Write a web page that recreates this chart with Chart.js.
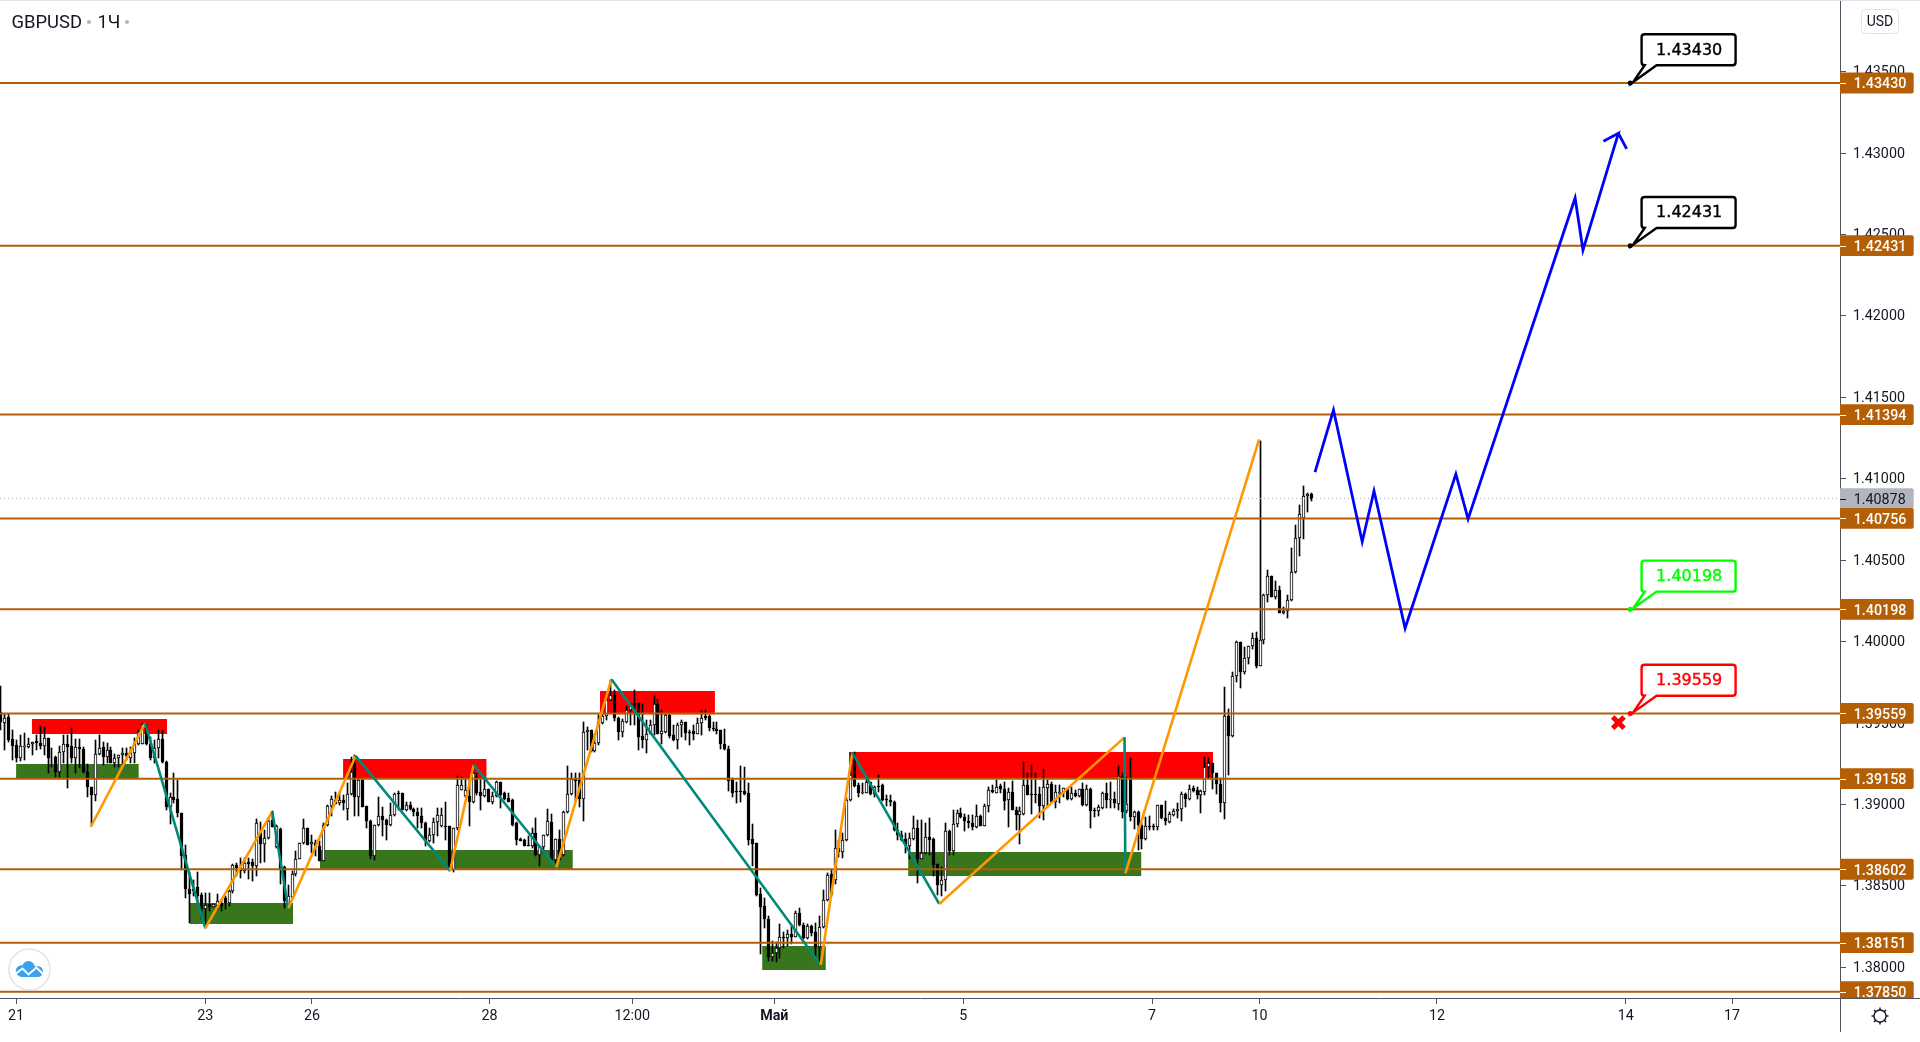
<!DOCTYPE html>
<html>
<head>
<meta charset="utf-8">
<title>GBPUSD</title>
<script src="https://cdn.jsdelivr.net/npm/chart.js@4/dist/chart.umd.min.js"></script>
<style>
    html, body { margin: 0; padding: 0; background: #fff; overflow: hidden; }
    canvas { display: block; }
</style>
</head>
<body>
<canvas id="chart" width="1920" height="1042"></canvas>
<script>
// Hourly candles. Index in these arrays is the bar number.
const opens = [
1.39568,1.39500,1.39537,1.39399,1.39364,1.39283,1.39354,1.39354,1.39374,1.39388,
1.39380,1.39360,1.39405,1.39287,1.39289,1.39201,1.39323,1.39374,1.39358,1.39287,
1.39350,1.39340,1.39201,1.39109,1.39059,1.39309,1.39350,1.39293,1.39333,1.39256,
1.39283,1.39301,1.39313,1.39283,1.39313,1.39374,1.39374,1.39476,1.39374,1.39283,
1.39344,1.39399,1.39262,1.38987,1.39044,1.39032,1.38947,1.38690,1.38482,1.38482,
1.38495,1.38442,1.38356,1.38387,1.38370,1.38377,1.38397,1.38423,1.38397,1.38468,
1.38631,1.38611,1.38590,1.38647,1.38647,1.38621,1.38824,1.38757,1.38794,1.38906,
1.38739,1.38849,1.38613,1.38368,1.38429,1.38570,1.38666,1.38763,1.38855,1.38755,
1.38763,1.38743,1.38651,1.38875,1.38991,1.39028,1.39008,1.39028,1.38971,1.39063,
1.39248,1.39044,1.39150,1.38991,1.38900,1.38686,1.38873,1.38930,1.38906,1.38873,
1.38934,1.39073,1.39069,1.38967,1.38997,1.38973,1.38953,1.38930,1.38885,1.38773,
1.38814,1.38892,1.38869,1.38869,1.38865,1.38596,1.38855,1.39089,1.39052,1.39052,
1.39012,1.39171,1.39079,1.39052,1.39093,1.39018,1.39052,1.39140,1.39073,1.39038,
1.39028,1.38885,1.38790,1.38784,1.38749,1.38747,1.38824,1.38692,1.38737,1.38810,
1.38892,1.38661,1.38788,1.38692,1.38953,1.39065,1.39160,1.39150,1.39032,1.39443,
1.39455,1.39329,1.39378,1.39500,1.39541,1.39639,1.39675,1.39533,1.39445,1.39506,
1.39582,1.39624,1.39624,1.39419,1.39398,1.39435,1.39490,1.39618,1.39435,1.39445,
1.39547,1.39425,1.39398,1.39490,1.39504,1.39447,1.39449,1.39435,1.39502,1.39541,
1.39541,1.39472,1.39466,1.39455,1.39374,1.39343,1.39150,1.39083,1.39083,1.39083,
1.39069,1.38790,1.38763,1.38448,1.38374,1.38299,1.38061,1.38085,1.38116,1.38183,
1.38177,1.38203,1.38187,1.38336,1.38262,1.38177,1.38254,1.38214,1.38122,1.38250,
1.38413,1.38570,1.38539,1.38733,1.38706,1.38784,1.39026,1.39272,1.39120,1.39073,
1.39073,1.39136,1.39063,1.39116,1.39120,1.39032,1.39030,1.39018,1.38845,1.38814,
1.38790,1.38747,1.38790,1.38855,1.38668,1.38702,1.38800,1.38790,1.38637,1.38505,
1.38539,1.38839,1.38716,1.38881,1.38947,1.38920,1.38900,1.38885,1.38861,1.38930,
1.38869,1.38991,1.39089,1.39073,1.39113,1.39093,1.39026,1.39077,1.38967,1.38936,
1.38942,1.39120,1.39065,1.39063,1.39063,1.38991,1.39103,1.39124,1.39014,1.39073,
1.39079,1.39099,1.39034,1.39073,1.39052,1.39093,1.38997,1.39093,1.38963,1.38957,
1.38977,1.39069,1.39028,1.39032,1.39004,1.39175,1.38957,1.39160,1.38922,1.38953,
1.38875,1.38790,1.38869,1.38865,1.38859,1.38995,1.38916,1.38894,1.38936,1.38957,
1.38971,1.39065,1.39034,1.39103,1.39089,1.39061,1.39079,1.39227,1.39252,1.39191,
1.39124,1.39008,1.39541,1.39421,1.39787,1.39999,1.39812,1.39899,1.39971,1.40022,
1.39853,1.40009,1.40286,1.40400,1.40276,1.40315,1.40178,1.40188,1.40254,1.40425,
1.40638,1.40759,1.40895,1.40907
];
const highs = [
1.39730,1.39557,1.39557,1.39456,1.39395,1.39425,1.39441,1.39405,1.39386,1.39425,
1.39480,1.39476,1.39405,1.39344,1.39297,1.39358,1.39425,1.39425,1.39472,1.39399,
1.39399,1.39354,1.39248,1.39109,1.39395,1.39425,1.39384,1.39378,1.39354,1.39309,
1.39301,1.39344,1.39344,1.39354,1.39405,1.39456,1.39500,1.39496,1.39415,1.39395,
1.39456,1.39456,1.39266,1.39069,1.39191,1.39150,1.38947,1.38753,1.38584,1.38539,
1.38584,1.38458,1.38458,1.38458,1.38387,1.38448,1.38417,1.38438,1.38474,1.38637,
1.38641,1.38672,1.38672,1.38672,1.38662,1.38910,1.38890,1.38845,1.38916,1.38957,
1.38875,1.38855,1.38621,1.38503,1.38590,1.38712,1.38763,1.38912,1.38855,1.38814,
1.38784,1.38773,1.38885,1.38997,1.39052,1.39079,1.39079,1.39059,1.39130,1.39293,
1.39303,1.39160,1.39154,1.38991,1.38906,1.38875,1.39048,1.38987,1.38910,1.39008,
1.39069,1.39083,1.39073,1.39018,1.39012,1.38977,1.38977,1.38977,1.38890,1.38855,
1.38916,1.38977,1.38977,1.39018,1.38865,1.38855,1.39175,1.39171,1.39160,1.39171,
1.39242,1.39191,1.39160,1.39160,1.39093,1.39079,1.39146,1.39140,1.39079,1.39069,
1.39032,1.38890,1.38794,1.38788,1.38804,1.38855,1.38916,1.38743,1.38814,1.38973,
1.38942,1.38788,1.38845,1.38957,1.39236,1.39195,1.39195,1.39191,1.39506,1.39476,
1.39460,1.39435,1.39547,1.39557,1.39675,1.39765,1.39700,1.39537,1.39527,1.39602,
1.39622,1.39700,1.39624,1.39614,1.39517,1.39517,1.39663,1.39649,1.39582,1.39557,
1.39553,1.39486,1.39500,1.39517,1.39504,1.39455,1.39486,1.39531,1.39582,1.39582,
1.39547,1.39506,1.39506,1.39460,1.39466,1.39358,1.39164,1.39138,1.39236,1.39227,
1.39130,1.38881,1.38763,1.38484,1.38427,1.38315,1.38163,1.38157,1.38264,1.38214,
1.38230,1.38254,1.38346,1.38366,1.38271,1.38264,1.38258,1.38271,1.38315,1.38474,
1.38580,1.38600,1.38845,1.38784,1.38824,1.39038,1.39313,1.39323,1.39130,1.39130,
1.39156,1.39136,1.39113,1.39181,1.39126,1.39059,1.39059,1.39022,1.38885,1.38835,
1.38824,1.38824,1.38930,1.38906,1.38906,1.38885,1.38916,1.38794,1.38637,1.38617,
1.38885,1.38845,1.38967,1.38967,1.38977,1.38942,1.38936,1.38936,1.38997,1.38936,
1.39004,1.39109,1.39120,1.39150,1.39126,1.39140,1.39099,1.39144,1.38987,1.38987,
1.39262,1.39191,1.39242,1.39191,1.39109,1.39215,1.39150,1.39140,1.39120,1.39120,
1.39103,1.39103,1.39109,1.39089,1.39093,1.39130,1.39120,1.39099,1.38977,1.38997,
1.39079,1.39130,1.39140,1.39079,1.39236,1.39191,1.39171,1.39283,1.38957,1.38957,
1.38885,1.38922,1.38926,1.38881,1.38995,1.38995,1.39022,1.38951,1.38971,1.39008,
1.39079,1.39069,1.39120,1.39113,1.39109,1.39089,1.39289,1.39283,1.39256,1.39191,
1.39160,1.39724,1.39588,1.39812,1.40005,1.39999,1.39964,1.39975,1.40054,1.40056,
1.41231,1.40290,1.40439,1.40402,1.40372,1.40341,1.40213,1.40286,1.40575,1.40714,
1.40840,1.40958,1.40915,1.40915
];
const lows = [
1.39456,1.39333,1.39384,1.39272,1.39262,1.39266,1.39272,1.39344,1.39303,1.39333,
1.39338,1.39303,1.39191,1.39232,1.39166,1.39166,1.39252,1.39099,1.39252,1.39191,
1.39221,1.39191,1.39048,1.38865,1.39024,1.39303,1.39242,1.39252,1.39252,1.39228,
1.39228,1.39236,1.39272,1.39256,1.39256,1.39364,1.39374,1.39364,1.39272,1.39252,
1.39283,1.39252,1.38967,1.38881,1.39008,1.38922,1.38600,1.38427,1.38275,1.38438,
1.38393,1.38295,1.38244,1.38346,1.38370,1.38356,1.38346,1.38356,1.38377,1.38458,
1.38560,1.38550,1.38580,1.38543,1.38529,1.38560,1.38641,1.38645,1.38788,1.38861,
1.38733,1.38509,1.38366,1.38368,1.38417,1.38560,1.38662,1.38759,1.38753,1.38702,
1.38682,1.38651,1.38651,1.38869,1.38926,1.39002,1.38997,1.38967,1.38906,1.39059,
1.38930,1.38926,1.38987,1.38855,1.38662,1.38657,1.38869,1.38804,1.38780,1.38865,
1.38926,1.38967,1.38963,1.38957,1.38963,1.38926,1.38855,1.38855,1.38743,1.38767,
1.38763,1.38804,1.38861,1.38784,1.38590,1.38588,1.38845,1.39089,1.39044,1.38865,
1.39008,1.39059,1.38963,1.39048,1.39016,1.39004,1.39048,1.38977,1.39028,1.39016,
1.38869,1.38753,1.38773,1.38743,1.38743,1.38733,1.38682,1.38625,1.38702,1.38804,
1.38651,1.38641,1.38657,1.38682,1.38947,1.39059,1.39018,1.38983,1.38896,1.39333,
1.39323,1.39323,1.39364,1.39496,1.39517,1.39635,1.39513,1.39394,1.39415,1.39500,
1.39486,1.39486,1.39333,1.39344,1.39317,1.39431,1.39425,1.39431,1.39370,1.39439,
1.39405,1.39390,1.39341,1.39415,1.39398,1.39364,1.39398,1.39431,1.39427,1.39517,
1.39451,1.39451,1.39435,1.39339,1.39337,1.39085,1.39044,1.39008,1.39018,1.39059,
1.38753,1.38625,1.38437,1.38081,1.38240,1.38040,1.38040,1.38034,1.38055,1.38116,
1.38132,1.38142,1.38183,1.38254,1.38173,1.38173,1.38193,1.38061,1.38020,1.38244,
1.38407,1.38437,1.38509,1.38678,1.38672,1.38778,1.39022,1.39109,1.39048,1.39063,
1.39069,1.39059,1.39048,1.39079,1.39024,1.38991,1.38991,1.38835,1.38784,1.38773,
1.38702,1.38662,1.38784,1.38515,1.38662,1.38696,1.38692,1.38560,1.38442,1.38438,
1.38468,1.38692,1.38692,1.38861,1.38916,1.38835,1.38855,1.38845,1.38855,1.38869,
1.38869,1.38951,1.39073,1.39069,1.39069,1.38963,1.38861,1.38963,1.38841,1.38759,
1.38936,1.39059,1.38942,1.39008,1.38916,1.38906,1.38987,1.39012,1.38981,1.39008,
1.39044,1.39028,1.39028,1.39048,1.39048,1.38991,1.38991,1.38855,1.38922,1.38930,
1.38971,1.38977,1.38977,1.38977,1.38967,1.38916,1.38947,1.38896,1.38849,1.38723,
1.38727,1.38784,1.38841,1.38841,1.38845,1.38910,1.38875,1.38885,1.38926,1.38916,
1.38900,1.38983,1.39028,1.39075,1.39032,1.38947,1.39059,1.39156,1.39093,1.39063,
1.38951,1.38910,1.39181,1.39415,1.39751,1.39714,1.39798,1.39863,1.39952,1.39836,
1.39853,1.39985,1.40243,1.40274,1.40264,1.40178,1.40168,1.40142,1.40250,1.40421,
1.40526,1.40632,1.40795,1.40864
];
const closes = [
1.39507,1.39533,1.39395,1.39360,1.39283,1.39358,1.39358,1.39374,1.39386,1.39378,
1.39358,1.39405,1.39287,1.39283,1.39201,1.39323,1.39374,1.39354,1.39287,1.39350,
1.39340,1.39201,1.39109,1.39059,1.39309,1.39348,1.39293,1.39333,1.39256,1.39283,
1.39301,1.39313,1.39297,1.39313,1.39374,1.39445,1.39496,1.39374,1.39283,1.39344,
1.39399,1.39262,1.38987,1.39044,1.39028,1.38947,1.38686,1.38478,1.38448,1.38470,
1.38438,1.38356,1.38385,1.38370,1.38387,1.38407,1.38377,1.38397,1.38468,1.38631,
1.38611,1.38590,1.38641,1.38637,1.38621,1.38886,1.38757,1.38794,1.38896,1.38861,
1.38869,1.38600,1.38407,1.38438,1.38570,1.38666,1.38763,1.38855,1.38753,1.38769,
1.38743,1.38651,1.38875,1.38991,1.39032,1.39002,1.39028,1.39008,1.39063,1.39201,
1.39044,1.39150,1.38987,1.38896,1.38686,1.38875,1.38930,1.38902,1.38873,1.38934,
1.39065,1.39063,1.38967,1.38997,1.38971,1.38951,1.38930,1.38885,1.38773,1.38814,
1.38892,1.38934,1.38934,1.38861,1.38611,1.38855,1.39118,1.39120,1.39089,1.39012,
1.39191,1.39069,1.39052,1.39093,1.39018,1.39052,1.39140,1.39059,1.39034,1.39018,
1.38875,1.38784,1.38778,1.38747,1.38743,1.38824,1.38692,1.38743,1.38814,1.38896,
1.38661,1.38788,1.38661,1.38953,1.39065,1.39154,1.39146,1.39032,1.39443,1.39455,
1.39329,1.39378,1.39506,1.39541,1.39643,1.39673,1.39533,1.39445,1.39510,1.39582,
1.39618,1.39612,1.39415,1.39398,1.39435,1.39490,1.39618,1.39435,1.39449,1.39547,
1.39421,1.39394,1.39490,1.39504,1.39439,1.39439,1.39435,1.39502,1.39533,1.39531,
1.39472,1.39464,1.39449,1.39370,1.39339,1.39146,1.39073,1.39075,1.39077,1.39065,
1.38784,1.38759,1.38444,1.38370,1.38299,1.38061,1.38085,1.38116,1.38183,1.38177,
1.38203,1.38183,1.38336,1.38258,1.38177,1.38254,1.38209,1.38122,1.38250,1.38413,
1.38568,1.38448,1.38733,1.38708,1.38784,1.39026,1.39181,1.39113,1.39073,1.39077,
1.39136,1.39063,1.39109,1.39109,1.39028,1.39028,1.39012,1.38841,1.38814,1.38784,
1.38753,1.38794,1.38855,1.38668,1.38702,1.38800,1.38784,1.38631,1.38505,1.38539,
1.38839,1.38716,1.38881,1.38947,1.38920,1.38900,1.38885,1.38861,1.38926,1.38869,
1.38991,1.39089,1.39079,1.39109,1.39093,1.39022,1.39077,1.38963,1.38936,1.38957,
1.39120,1.39059,1.39059,1.39057,1.38991,1.39105,1.39124,1.39014,1.39079,1.39079,
1.39099,1.39034,1.39069,1.39052,1.39093,1.38997,1.39093,1.38957,1.38957,1.38983,
1.39069,1.39028,1.39034,1.39008,1.39175,1.38951,1.39004,1.38922,1.38953,1.38873,
1.38790,1.38869,1.38861,1.38861,1.38995,1.38914,1.38900,1.38942,1.38961,1.38971,
1.39063,1.39036,1.39097,1.39083,1.39061,1.39083,1.39227,1.39252,1.39191,1.39124,
1.39008,1.39541,1.39421,1.39787,1.39999,1.39812,1.39899,1.39971,1.40022,1.39853,
1.40009,1.40286,1.40400,1.40276,1.40315,1.40178,1.40188,1.40254,1.40425,1.40638,
1.40783,1.40895,1.40909,1.40878
];

// Time axis
const timeTickBars = [4, 52.1, 79.2, 124.3, 160.6, 196.7, 244.7, 292.7, 320, 365.1, 413.1, 440.1];
const timeTickLabels = ['21', '23', '26', '28', '12:00', 'Май', '5', '7', '10', '12', '14', '17'];

// Price axis
const priceTicks = [1.38, 1.385, 1.39, 1.395, 1.40, 1.405, 1.41, 1.415, 1.42, 1.425, 1.43, 1.435];
const lastPrice = 1.40878;

// Horizontal levels
const levelPrices = [1.43430, 1.42431, 1.41394, 1.40756, 1.40198, 1.39559, 1.39158, 1.38602, 1.38151, 1.37850];

// Supply zones
const redStart = [8.0, 87.1, 152.4, 215.7];
const redEnd = [42.4, 123.6, 181.6, 308.2];
const redTop = [1.39525, 1.39279, 1.39697, 1.39322];
const redBottom = [1.39433, 1.39158, 1.39554, 1.39158];

// Demand zones
const greenStart = [4.0, 48.2, 81.2, 193.6, 230.7];
const greenEnd = [35.2, 74.4, 145.5, 209.8, 290.0];
const greenTop = [1.39248, 1.38395, 1.38720, 1.38131, 1.38708];
const greenBottom = [1.39158, 1.38266, 1.38602, 1.37984, 1.38561];

// Swing line: odd segments go up (orange), even ones down (teal)
const swingBars = [23.0, 36.8, 52.1, 69.1, 73.2, 90.3, 114.3, 120.3, 141.3, 155.3, 208.5, 216.5, 238.6, 285.7, 285.9, 319.9];
const swingPrices = [1.38863, 1.39498, 1.38240, 1.38956, 1.38362, 1.39298, 1.38593, 1.39244, 1.38614, 1.39769, 1.38014, 1.39318, 1.38389, 1.39412, 1.38577, 1.41242];

// Projected path, the last four points make the arrow head
const forecastBars = [334.1, 338.8, 346.1, 349.1, 357.0, 369.9, 373.0, 400.2, 402.2, 411.2, 407.4, 411.2, 413.3];
const forecastPrices = [1.41040, 1.41422, 1.40613, 1.40925, 1.40082, 1.41029, 1.40753, 1.42724, 1.42404, 1.43121, 1.43072, 1.43121, 1.43025];

// Balloon notes
const noteBar = 414.2;
const notePrices = [1.43430, 1.42431, 1.40198, 1.39559];
const noteColors = ['#000000', '#000000', '#00ff00', '#ff0000'];
const stopBar = 411.2;
const stopPrice = 1.39502;

const LEVEL_COLOR = '#b45f06';
const AXIS_COLOR = '#50535e';
const TEXT_COLOR = '#131722';

const BAR_STEP = 3.935;
const xMin = -0.08;
const xMax = xMin + 1840 / BAR_STEP;

function zoneDataset(start, end, top, bottom, color) {
    return {
        type: 'line',
        data: [{ x: start, y: top }, { x: end, y: top }],
        fill: { value: bottom },
        backgroundColor: color,
        borderWidth: 0,
        pointRadius: 0,
        order: 6
    };
}

function roundRect(ctx, x, y, w, h, r) {
    ctx.beginPath();
    ctx.roundRect(x, y, w, h, r);
}

// Snap candles to whole pixels, TradingView draws them crisp
const snapBars = {
    id: 'snapBars',
    beforeDatasetsDraw(chart) {
        chart.getSortedVisibleDatasetMetas().forEach(meta => {
            if (meta.type !== 'bar') return;
            meta.data.forEach(el => {
                el.x = Math.round(el.x) + 0.5;
                el.y = Math.round(el.y);
                el.base = Math.round(el.base);
            });
        });
    }
};

function drawTag(ctx, yPx, price, bg, fg, weight) {
    ctx.fillStyle = bg;
    roundRect(ctx, 1840, yPx - 10.4, 73.7, 20.8, [0, 2, 2, 0]);
    ctx.fill();
    ctx.fillStyle = fg;
    ctx.fillRect(1840, Math.round(yPx), 6, 1);
    ctx.font = weight + ' 14.3px Roboto';
    ctx.textAlign = 'left';
    ctx.textBaseline = 'middle';
    ctx.fillText(price.toFixed(5), 1853.7, yPx + 1.8);
}

function drawNote(ctx, ax, ay, price, color) {
    const x0 = ax + 11.4, x1 = ax + 105.4, y0 = ay - 48.7, y1 = ay - 17.7, r = 3;
    ctx.beginPath();
    ctx.moveTo(x0 + r, y0);
    ctx.lineTo(x1 - r, y0);
    ctx.quadraticCurveTo(x1, y0, x1, y0 + r);
    ctx.lineTo(x1, y1 - r);
    ctx.quadraticCurveTo(x1, y1, x1 - r, y1);
    ctx.lineTo(ax + 26.4, y1);
    ctx.lineTo(ax + 3, ay - 1);
    ctx.lineTo(ax + 14.5, y1);
    ctx.lineTo(x0 + r, y1);
    ctx.quadraticCurveTo(x0, y1, x0, y1 - r);
    ctx.lineTo(x0, y0 + r);
    ctx.quadraticCurveTo(x0, y0, x0 + r, y0);
    ctx.closePath();
    ctx.fillStyle = '#ffffff';
    ctx.fill();
    ctx.strokeStyle = color;
    ctx.lineWidth = 2.4;
    ctx.stroke();

    ctx.fillStyle = color;
    ctx.beginPath();
    ctx.arc(ax, ay, 2.5, 0, Math.PI * 2);
    ctx.fill();

    // regular face with a hairline stroke, bold is too heavy here
    ctx.font = '16px "DejaVu Sans"';
    ctx.textAlign = 'center';
    ctx.textBaseline = 'middle';
    ctx.lineWidth = 0.4;
    ctx.fillText(price.toFixed(5), ax + 59, ay - 32.5);
    ctx.strokeText(price.toFixed(5), ax + 59, ay - 32.5);
}

function drawGear(ctx, cx, cy) {
    ctx.strokeStyle = TEXT_COLOR;
    ctx.lineWidth = 1.4;
    ctx.beginPath();
    ctx.arc(cx, cy, 6, 0, Math.PI * 2);
    ctx.stroke();
    for (let i = 0; i < 8; i++) {
        const a = i * Math.PI / 4;
        ctx.beginPath();
        ctx.moveTo(cx + Math.cos(a) * 6, cy + Math.sin(a) * 6);
        ctx.lineTo(cx + Math.cos(a) * 8.5, cy + Math.sin(a) * 8.5);
        ctx.stroke();
    }
}

function drawLogo(ctx, cx, cy) {
    ctx.beginPath();
    ctx.arc(cx, cy, 20.5, 0, Math.PI * 2);
    ctx.fillStyle = '#ffffff';
    ctx.fill();
    ctx.strokeStyle = '#e0e3eb';
    ctx.lineWidth = 1.5;
    ctx.stroke();
    ctx.fillStyle = '#39a3f0';
    ctx.beginPath();
    ctx.arc(cx - 8, cy + 1.5, 5.8, 0, Math.PI * 2);
    ctx.arc(cx - 1, cy - 2, 6.4, 0, Math.PI * 2);
    ctx.arc(cx + 8, cy + 2, 5.6, 0, Math.PI * 2);
    ctx.fill();
    ctx.fillRect(cx - 9, cy, 18, 7.5);
    ctx.strokeStyle = '#ffffff';
    ctx.lineWidth = 2;
    ctx.beginPath();
    ctx.moveTo(cx - 15, cy + 5);
    ctx.lineTo(cx - 7, cy - 1);
    ctx.lineTo(cx - 1, cy + 5);
    ctx.lineTo(cx + 7, cy - 2);
    ctx.lineTo(cx + 14, cy + 5);
    ctx.stroke();
}

// Everything that is not a data mark: price tags, notes, header, widgets
const overlay = {
    id: 'overlay',
    afterDraw(chart) {
        const ctx = chart.ctx;
        const x = chart.scales.x;
        const y = chart.scales.y;
        const bottom = chart.chartArea.bottom;

        ctx.save();
        ctx.fillStyle = '#e0e3eb';
        ctx.fillRect(0, 0, 1920, 1);
        ctx.fillStyle = AXIS_COLOR;
        ctx.fillRect(1840, bottom, 80, 1);
        ctx.fillRect(1840, bottom, 1, 34);

        ctx.save();
        ctx.beginPath();
        ctx.rect(1840, 0, 80, bottom);
        ctx.clip();
        drawTag(ctx, y.getPixelForValue(lastPrice), lastPrice, '#b2b5be', TEXT_COLOR, 'normal');
        levelPrices.forEach(p => drawTag(ctx, y.getPixelForValue(p), p, LEVEL_COLOR, '#ffffff', '500'));
        ctx.restore();

        notePrices.forEach((p, i) => {
            drawNote(ctx, x.getPixelForValue(noteBar), y.getPixelForValue(p), p, noteColors[i]);
        });

        // Header
        ctx.fillStyle = TEXT_COLOR;
        ctx.font = '18.4px Roboto';
        ctx.textAlign = 'left';
        ctx.textBaseline = 'middle';
        ctx.fillText('GBPUSD', 11.5, 23);
        ctx.fillText('1Ч', 97.5, 23);
        ctx.fillStyle = '#b2b5be';
        [89, 127].forEach(dx => {
            ctx.beginPath();
            ctx.arc(dx, 22, 2, 0, Math.PI * 2);
            ctx.fill();
        });

        // Currency button
        ctx.strokeStyle = '#e0e3eb';
        ctx.lineWidth = 1;
        roundRect(ctx, 1861.5, 9.5, 37, 24, 4);
        ctx.stroke();
        ctx.fillStyle = TEXT_COLOR;
        ctx.font = '14px Roboto';
        ctx.textAlign = 'center';
        ctx.fillText('USD', 1880, 22.5);

        drawGear(ctx, 1880, 1016);
        drawLogo(ctx, 29.5, 969.5);
        ctx.restore();
    }
};

new Chart(document.getElementById('chart'), {
    type: 'bar',
    data: {
        datasets: [
            ...redStart.map((s, i) => zoneDataset(s, redEnd[i], redTop[i], redBottom[i], '#ff0000')),
            ...greenStart.map((s, i) => zoneDataset(s, greenEnd[i], greenTop[i], greenBottom[i], '#38761d')),
            {
                // wicks
                data: highs.map((h, i) => ({ x: i, y: [lows[i], h] })),
                backgroundColor: '#000000',
                borderWidth: 0,
                barThickness: 1,
                grouped: false,
                order: 5
            },
            {
                // bodies
                data: opens.map((o, i) => ({ x: i, y: [o, closes[i]] })),
                backgroundColor: opens.map((o, i) => closes[i] >= o ? '#ffffff' : '#000000'),
                borderColor: '#000000',
                borderWidth: 1,
                borderSkipped: false,
                barThickness: 3,
                grouped: false,
                order: 4
            },
            ...levelPrices.map(p => ({
                type: 'line',
                data: [{ x: xMin, y: p }, { x: xMax, y: p }],
                borderColor: LEVEL_COLOR,
                borderWidth: 2,
                pointRadius: 0,
                order: 3
            })),
            {
                type: 'line',
                data: [{ x: xMin, y: lastPrice }, { x: xMax, y: lastPrice }],
                borderColor: '#b2b5be',
                borderWidth: 1,
                borderDash: [1, 3],
                pointRadius: 0,
                order: 3
            },
            {
                type: 'line',
                data: swingBars.map((b, i) => ({ x: b, y: swingPrices[i] })),
                borderWidth: 2.6,
                pointRadius: 0,
                tension: 0,
                segment: {
                    borderColor: ctx => ctx.p0DataIndex % 2 === 0 ? '#ff9800' : '#00897b'
                },
                order: 2
            },
            {
                type: 'line',
                data: forecastBars.map((b, i) => ({ x: b, y: forecastPrices[i] })),
                borderColor: '#0000ff',
                borderWidth: 2.8,
                pointRadius: 0,
                tension: 0,
                order: 1
            },
            {
                type: 'line',
                data: [{ x: stopBar, y: stopPrice }],
                showLine: false,
                pointStyle: 'crossRot',
                pointRadius: 8,
                pointBorderColor: '#ff0000',
                pointBorderWidth: 5,
                order: 0
            }
        ]
    },
    options: {
        responsive: false,
        animation: false,
        events: [],
        // the plot has to touch the canvas edges, the big stop mark would push it in
        layout: { padding: 0, autoPadding: false },
        plugins: { legend: { display: false }, tooltip: { enabled: false } },
        scales: {
            x: {
                type: 'linear',
                min: xMin,
                max: xMax,
                offset: false,
                grid: { offset: false, drawOnChartArea: false, tickLength: 6, tickColor: AXIS_COLOR },
                border: { color: AXIS_COLOR },
                afterBuildTicks: scale => { scale.ticks = timeTickBars.map(v => ({ value: v })); },
                afterFit: scale => {
                    scale.height = 44;
                    scale.paddingLeft = 0;
                    scale.paddingRight = 0;
                },
                ticks: {
                    autoSkip: false,
                    maxRotation: 0,
                    minRotation: 0,
                    padding: 4,
                    color: TEXT_COLOR,
                    font: ctx => ({
                        family: 'Roboto',
                        size: 14.3,
                        weight: timeTickLabels[ctx.index] === 'Май' ? 'bold' : 'normal'
                    }),
                    callback: (value, index) => timeTickLabels[index]
                }
            },
            y: {
                type: 'linear',
                position: 'right',
                min: 1.378115,
                max: 1.439395,
                grid: { drawOnChartArea: false, tickLength: 6, tickColor: AXIS_COLOR },
                border: { color: AXIS_COLOR },
                afterBuildTicks: scale => { scale.ticks = priceTicks.map(v => ({ value: v })); },
                afterFit: scale => {
                    scale.width = 80;
                    scale.paddingTop = 0;
                    scale.paddingBottom = 0;
                },
                ticks: {
                    padding: 7,
                    labelOffset: 1,
                    color: TEXT_COLOR,
                    font: { family: 'Roboto', size: 14.3 },
                    callback: value => value.toFixed(5)
                }
            }
        }
    },
    plugins: [snapBars, overlay]
});
</script>
</body>
</html>
